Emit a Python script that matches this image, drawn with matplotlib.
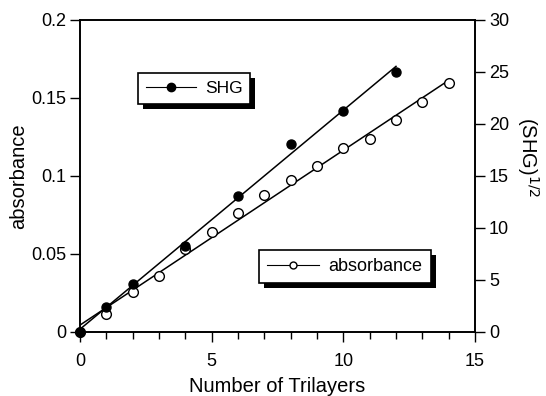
import numpy as np
import matplotlib
matplotlib.use("Agg")
import matplotlib.pyplot as plt
from matplotlib.patches import Rectangle
from matplotlib.ticker import MultipleLocator

plt.rcParams['font.family'] = ['Liberation Sans', 'DejaVu Sans']

# absorbance (open circles, left axis)
abs_layers = [0, 1, 2, 3, 4, 5, 6, 7, 8, 9, 10, 11, 12, 13, 14]
absorbance = [0.0, 0.0115, 0.0256, 0.0359, 0.0532, 0.0641, 0.0761, 0.0878,
              0.0976, 0.1066, 0.1178, 0.1237, 0.1361, 0.1476, 0.1596]

# sqrt(SHG) (filled circles, right axis)
shg_layers = [0, 1, 2, 4, 6, 8, 10, 12]
shg_sqrt = [0.0, 2.40, 4.62, 8.27, 13.1, 18.1, 21.25, 24.97]

fig = plt.figure(figsize=(5.46, 3.96), dpi=100)
ax1 = fig.add_axes([80/546, 1-332/396, 395/546, 312/396])
ax2 = ax1.twinx()

# linear fits
p_abs = np.polyfit(abs_layers, absorbance, 1)
p_shg = np.polyfit(shg_layers, shg_sqrt, 1)
xa = np.array([0, 14])
xs = np.array([0, 12])

ax1.plot(xa, np.polyval(p_abs, xa), color='black', lw=1.1)
ax1.plot(abs_layers, absorbance, 'o', mfc='white', mec='black', ms=7, mew=1.0,
         ls='none', clip_on=False)
ax2.plot(xs, np.polyval(p_shg, xs), color='black', lw=1.1)
ax2.plot(shg_layers, shg_sqrt, 'o', color='black', ms=6.5, ls='none',
         clip_on=False, zorder=5)

ax1.set_xlim(0, 15)
ax1.set_ylim(0, 0.2)
ax2.set_ylim(0, 30)

ax1.xaxis.set_major_locator(MultipleLocator(5))
ax1.xaxis.set_minor_locator(MultipleLocator(1))
ax2.yaxis.set_major_locator(MultipleLocator(5))
ax1.set_yticks([0, 0.05, 0.1, 0.15, 0.2])
ax1.set_yticklabels(['0', '0.05', '0.1', '0.15', '0.2'])

ax1.tick_params(axis='both', which='major', direction='out', length=7, width=1,
                labelsize=13)
ax1.tick_params(axis='y', pad=3)
ax1.tick_params(axis='x', pad=8)
ax1.tick_params(axis='x', which='minor', direction='out', length=5, width=1)
ax2.tick_params(axis='y', which='major', direction='out', length=7, width=1,
                labelsize=13, pad=3)
for ax in (ax1, ax2):
    for s in ax.spines.values():
        s.set_linewidth(1.2)

ax1.set_xlabel('Number of Trilayers', fontsize=14.5, labelpad=5.5)
ax1.set_ylabel('absorbance', fontsize=14.5, labelpad=2)
fig.text(528/546, 1-157/396, '(SHG)$^{1/2}$', fontsize=14.5, rotation=-90,
         ha='center', va='center')

# legend handles with line through marker
h_shg, = ax2.plot([], [], 'o-', color='black', ms=6, lw=0.8)
h_abs, = ax1.plot([], [], 'o-', color='black', mfc='white', ms=5, lw=0.8)

leg1 = fig.legend([h_shg], ['SHG'], loc='upper left',
                  bbox_to_anchor=(138/546, 1-73/396), borderaxespad=0,
                  frameon=True, fancybox=False, edgecolor='black', framealpha=1,
                  fontsize=12.5, handlelength=2.9, borderpad=0.45, handletextpad=0.5)
leg2 = fig.legend([h_abs], ['absorbance'], loc='upper left',
                  bbox_to_anchor=(259/546, 1-250/396), borderaxespad=0,
                  frameon=True, fancybox=False, edgecolor='black', framealpha=1,
                  fontsize=13, handlelength=2.9, borderpad=0.45, handletextpad=0.5)

# heavy drop shadows behind the legend boxes
fig.canvas.draw()
inv = fig.transFigure.inverted()
for leg in (leg1, leg2):
    leg.get_frame().set_linewidth(1.2)
    bb = leg.get_frame().get_window_extent()
    (x0, y0), (x1, y1) = inv.transform([(bb.x0 + 5, bb.y0 - 5), (bb.x1 + 5, bb.y1 - 5)])
    fig.add_artist(Rectangle((x0, y0), x1 - x0, y1 - y0, transform=fig.transFigure,
                             facecolor='black', edgecolor='none',
                             zorder=leg.get_zorder() - 0.1))

fig.savefig('out.png', dpi=100)
